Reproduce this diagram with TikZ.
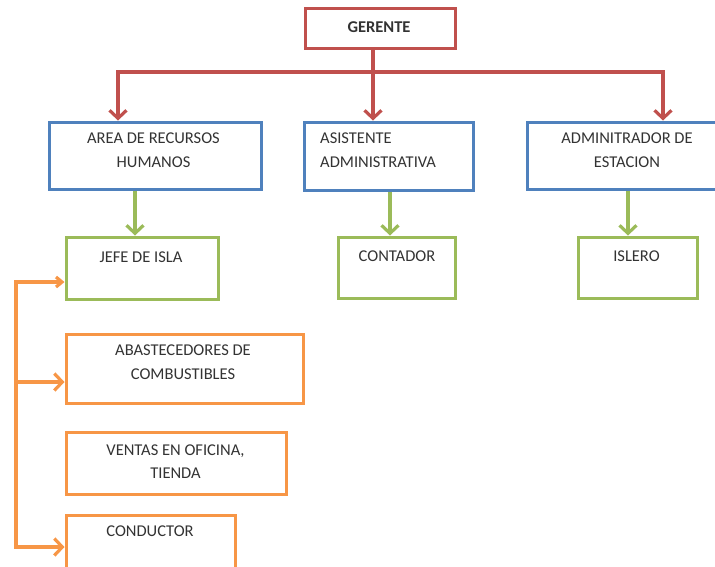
\documentclass[tikz,border=0pt]{standalone}
\usepackage{fontspec}
\setmainfont{Carlito}
\usetikzlibrary{arrows.meta}
\definecolor{cred}{HTML}{C0504D}
\definecolor{cblue}{HTML}{4F81BD}
\definecolor{cgreen}{HTML}{9BBB59}
\definecolor{corange}{HTML}{F79646}
\definecolor{ctext}{HTML}{333333}
\tikzset{
  box/.style={draw, line width=3pt, rectangle, inner sep=0pt, fill=white},
  redbox/.style={box, draw=cred},
  bluebox/.style={box, draw=cblue},
  greenbox/.style={box, draw=cgreen},
  orangebox/.style={box, draw=corange},
  txt/.style={inner sep=0pt, text=ctext, font=\fontsize{16.5}{24}\selectfont, align=center},
  conn/.style={line width=3.2pt, -{Straight Barb[length=8pt,width=17pt]}},
  redl/.style={line width=3.2pt, draw=cred},
  greenl/.style={conn, draw=cgreen},
  orangel/.style={line width=3.2pt, draw=corange},
}
\begin{document}
\begin{tikzpicture}[x=1pt,y=-1pt]
\useasboundingbox (0,0) rectangle (715,566);
\clip (0,0) rectangle (715,566);
% boxes
\node[redbox, minimum width=150, minimum height=40] (ger) at (380,28) {};
\node[bluebox, minimum width=212, minimum height=67] (area) at (155,155.5) {};
\node[bluebox, minimum width=169, minimum height=68] (asis) at (388.5,156) {};
\node[bluebox, minimum width=200, minimum height=67] (admin) at (627,155.5) {};
\node[greenbox, minimum width=152, minimum height=62] (jefe) at (142,268) {};
\node[greenbox, minimum width=117, minimum height=61] (cont) at (396.5,267.5) {};
\node[greenbox, minimum width=119, minimum height=61] (isl) at (637.5,267.5) {};
\node[orangebox, minimum width=237, minimum height=69] (abas) at (184.5,368.5) {};
\node[orangebox, minimum width=220, minimum height=62] (vent) at (176,463) {};
\node[orangebox, minimum width=169, minimum height=80] (cond) at (150.5,555) {};
% texts
\node[txt, font=\fontsize{16.5}{24}\selectfont\bfseries] (tger) at (379,27) {GERENTE};
\node[txt] (tarea) at (153.5,150.5) {AREA DE RECURSOS\\HUMANOS};
\node[txt, align=left, anchor=west] (tasis) at (320,150) {ASISTENTE\\ADMINISTRATIVA};
\node[txt] (tadmin) at (627,150.5) {ADMINITRADOR DE\\ESTACION};
\node[txt] (tjefe) at (141,257) {JEFE DE ISLA};
\node[txt] (tcont) at (397,256) {CONTADOR};
\node[txt] (tisl) at (636.5,256) {ISLERO};
\node[txt] (tabas) at (183,362.5) {ABASTECEDORES DE\\COMBUSTIBLES};
\node[txt, font=\fontsize{16.5}{22.5}\selectfont] (tvent) at (175.5,461.5) {VENTAS EN OFICINA,\\TIENDA};
\node[txt] (tcond) at (150,531) {CONDUCTOR};
% red connectors
\coordinate (trunk) at (373,72);
\coordinate (bl) at (118,72);
\coordinate (br) at (663,72);
\draw[redl] (ger.south -| trunk) -- (trunk);
\draw[redl, line cap=rect] (bl) -- (br);
\draw[redl, conn] (bl) -- (bl |- area.north);
\draw[redl, conn] (trunk) -- (trunk |- asis.north);
\draw[redl, conn] (br) -- (br |- admin.north);
% green connectors
\draw[greenl] (area.south -| 135,0) -- (jefe.north -| 135,0);
\draw[greenl] (asis.south -| 390,0) -- (cont.north -| 390,0);
\draw[greenl] (admin.south -| 628,0) -- (isl.north -| 628,0);
% orange connectors
\coordinate (otop) at (16,282);
\coordinate (obot) at (16,547);
\draw[orangel, line cap=rect] (otop) -- (obot);
\draw[orangel, conn, -{Straight Barb[length=6pt,width=10pt]}] (otop) -- (otop -| jefe.west);
\draw[orangel, conn] (16,382) -- (abas.west |- 16,382);
\draw[orangel, conn] (obot) -- (obot -| cond.west);
\end{tikzpicture}
\end{document}
